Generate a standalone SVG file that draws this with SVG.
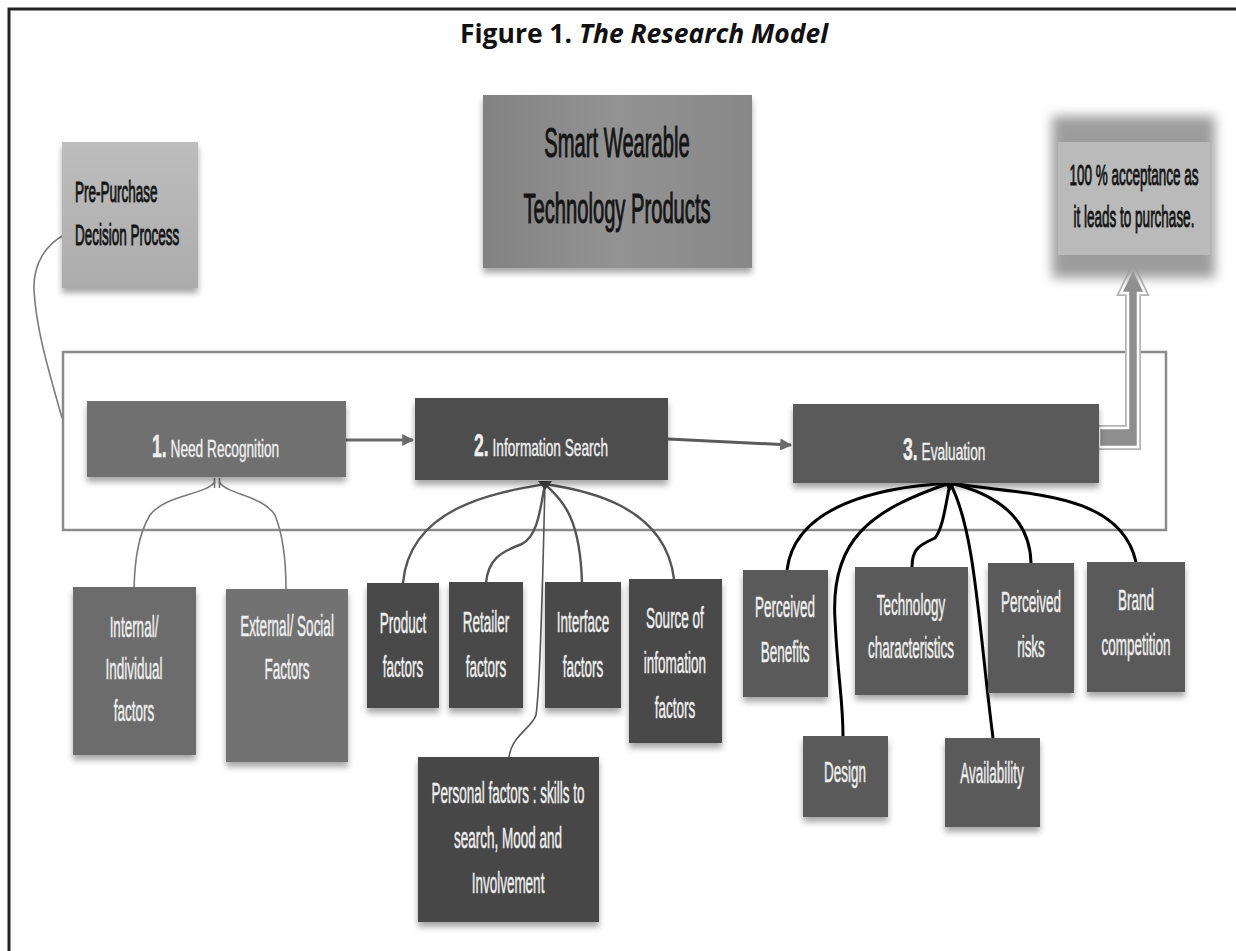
<svg xmlns="http://www.w3.org/2000/svg" width="1236" height="951" viewBox="0 0 1236 951">
<style>
.t{font-family:"Liberation Sans",Arial,sans-serif;font-size:30px;fill:#f0f0f0;stroke:#f0f0f0;stroke-width:0.5}
.d{font-family:"Liberation Sans",Arial,sans-serif;font-size:30px;fill:#141414;stroke:#141414;stroke-width:1}
.h{font-family:"Liberation Sans",Arial,sans-serif;font-size:24px;fill:#f0f0f0;stroke:#f0f0f0;stroke-width:0.4}
.hn{font-size:31px;font-weight:bold}
.c1{fill:none;stroke:#7a7a7a;stroke-width:1.6}
.c2{fill:none;stroke:#555;stroke-width:2.4}
.c3{fill:none;stroke:#000;stroke-width:3}
</style>
<defs>
<filter id="sh" x="-20%" y="-20%" width="140%" height="150%">
<feDropShadow dx="0" dy="5" stdDeviation="3" flood-color="#000" flood-opacity="0.35"/>
</filter>
<filter id="bl" x="-30%" y="-30%" width="160%" height="160%">
<feGaussianBlur stdDeviation="6"/>
</filter>
<linearGradient id="gs" x1="0" y1="0" x2="1" y2="0">
<stop offset="0" stop-color="#828282"/><stop offset="0.5" stop-color="#939393"/><stop offset="1" stop-color="#878787"/>
</linearGradient>
<linearGradient id="gp" x1="0" y1="0" x2="0" y2="1">
<stop offset="0" stop-color="#bdbdbd"/><stop offset="1" stop-color="#acacac"/>
</linearGradient>
<marker id="ar" viewBox="0 0 10 10" refX="9" refY="5" markerWidth="4" markerHeight="4" orient="auto" markerUnits="strokeWidth">
<path d="M0,0 L10,5 L0,10 z" fill="#6a6a6a"/>
</marker>
</defs>

<rect x="0" y="0" width="1236" height="951" fill="#fff"/>
<path d="M9 951 V9 H1236" fill="none" stroke="#222" stroke-width="3"/>

<text x="460" y="43" textLength="368" lengthAdjust="spacingAndGlyphs" style="font-family:'Open Sans','Liberation Sans',sans-serif;font-size:27px;font-weight:bold;fill:#111">Figure 1. <tspan font-style="italic">The Research Model</tspan></text>

<g id="container">
<rect x="63" y="352" width="1103" height="178" fill="#fff" stroke="#8a8a8a" stroke-width="2.5"/>
</g>

<g id="connectors">
<path class="c1" d="M64 235 C45 245 33 265 34 290 C36 330 50 375 62 418"/>
<line x1="345" y1="440" x2="413" y2="440" stroke="#6a6a6a" stroke-width="3" marker-end="url(#ar)"/>
<line x1="668" y1="439" x2="791" y2="445" stroke="#5a5a5a" stroke-width="3" marker-end="url(#ar)"/>
<path class="c1" d="M215 482 C205 495 165 495 150 515 C138 535 135 560 134 587"/>
<path class="c1" d="M219 482 C228 495 262 495 275 515 C283 535 286 560 286 589"/>
<path d="M214.5 478 V488 M219.5 478 V488" fill="none" stroke="#777" stroke-width="1.6"/>
<path class="c2" d="M545 484 C500 492 410 505 403 583"/>
<path class="c2" d="M545 484 C540 510 538 535 522 544 C500 552 488 560 486 583"/>
<path class="c2" d="M545 484 C560 500 580 512 582 583"/>
<path class="c2" d="M545 484 C585 490 665 505 674 579"/>
<path class="c1" d="M545 484 C543 560 541 680 536 715 C532 728 512 735 509 757" style="stroke:#555"/>
<polygon points="538,481 552,481 545,490" fill="#444"/>
<path class="c3" d="M950 483 C880 487 795 505 787 570"/>
<path class="c3" d="M950 483 C870 510 830 540 835 620 C838 680 843 700 843 736"/>
<path class="c3" d="M950 483 C945 510 942 530 935 538 C920 545 912 548 912 567"/>
<path class="c3" d="M950 483 C975 530 978 620 993 738"/>
<path class="c3" d="M950 483 C1000 495 1030 520 1031 563"/>
<path class="c3" d="M950 483 C1020 495 1120 490 1136 562"/>
<polygon points="940,478 958,481 950,491" fill="#000"/>
<path d="M1099 428 H1128 V293 H1121 L1133 268 L1145 293 H1138 V447 H1099 Z" fill="#8e8e8e" stroke="#b3b3b3" stroke-width="6" stroke-linejoin="miter"/>
<path d="M1099 428 H1128 V293 H1121 L1133 268 L1145 293 H1138 V447 H1099 Z" fill="#8e8e8e" stroke="#fff" stroke-width="2.5"/>
</g>

<g id="smart">
<rect x="483" y="95" width="269" height="173" fill="url(#gs)" filter="url(#sh)"/>
<text class="d" transform="matrix(0.48 0 0 1 617 0)" text-anchor="middle" style="font-size:42px"><tspan x="0" y="157">Smart Wearable</tspan><tspan x="0" y="223">Technology Products</tspan></text>
</g>

<g id="prepurchase">
<rect x="62" y="142" width="136" height="146" fill="url(#gp)" filter="url(#sh)"/>
<text class="d" transform="matrix(0.45 0 0 1 75 0)"><tspan x="0" y="202">Pre-Purchase</tspan><tspan x="0" y="245">Decision Process</tspan></text>
</g>

<g id="acceptance">
<rect x="1052" y="116" width="163" height="162" fill="#9c9c9c" filter="url(#bl)"/>
<rect x="1058" y="142" width="152" height="113" fill="#bababa"/>
<text class="d" transform="matrix(0.45 0 0 1 1134 0)" text-anchor="middle"><tspan x="0" y="185">100 % acceptance as</tspan><tspan x="0" y="227">it leads to purchase.</tspan></text>
</g>

<g id="need">
<rect x="87" y="401" width="259" height="76" fill="#707070" filter="url(#sh)"/>
<text class="h" transform="matrix(0.57 0 0 1 152 0)" y="457"><tspan class="hn">1.</tspan> Need Recognition</text>
</g>

<g id="search">
<rect x="415" y="398" width="253" height="82" fill="#4d4d4d" filter="url(#sh)"/>
<text class="h" transform="matrix(0.57 0 0 1 474 0)" y="456"><tspan class="hn">2.</tspan> Information Search</text>
</g>

<g id="evaluation">
<rect x="793" y="404" width="306" height="79" fill="#5a5a5a" filter="url(#sh)"/>
<text class="h" transform="matrix(0.57 0 0 1 903 0)" y="460"><tspan class="hn">3.</tspan> Evaluation</text>
</g>

<g id="internal">
<rect x="73" y="587" width="123" height="168" fill="#6c6c6c" filter="url(#sh)"/>
<text class="t" transform="matrix(0.45 0 0 1 134 0)" text-anchor="middle"><tspan x="0" y="637">Internal/</tspan><tspan x="0" y="679">Individual</tspan><tspan x="0" y="721">factors</tspan></text>
</g>

<g id="external">
<rect x="226" y="589" width="122" height="173" fill="#727272" filter="url(#sh)"/>
<text class="t" transform="matrix(0.45 0 0 1 287 0)" text-anchor="middle"><tspan x="0" y="636">External/ Social</tspan><tspan x="0" y="679">Factors</tspan></text>
</g>

<g id="product">
<rect x="367" y="583" width="72" height="125" fill="#484848" filter="url(#sh)"/>
<text class="t" transform="matrix(0.45 0 0 1 403 0)" text-anchor="middle"><tspan x="0" y="633">Product</tspan><tspan x="0" y="677">factors</tspan></text>
</g>

<g id="retailer">
<rect x="449" y="582" width="74" height="126" fill="#484848" filter="url(#sh)"/>
<text class="t" transform="matrix(0.45 0 0 1 486 0)" text-anchor="middle"><tspan x="0" y="632">Retailer</tspan><tspan x="0" y="677">factors</tspan></text>
</g>

<g id="interface">
<rect x="545" y="582" width="76" height="126" fill="#484848" filter="url(#sh)"/>
<text class="t" transform="matrix(0.45 0 0 1 583 0)" text-anchor="middle"><tspan x="0" y="632">Interface</tspan><tspan x="0" y="677">factors</tspan></text>
</g>

<g id="source">
<rect x="629" y="579" width="93" height="164" fill="#484848" filter="url(#sh)"/>
<text class="t" transform="matrix(0.45 0 0 1 675 0)" text-anchor="middle"><tspan x="0" y="628">Source of</tspan><tspan x="0" y="673">infomation</tspan><tspan x="0" y="718">factors</tspan></text>
</g>

<g id="personal">
<rect x="418" y="757" width="181" height="165" fill="#474747" filter="url(#sh)"/>
<text class="t" transform="matrix(0.45 0 0 1 508 0)" text-anchor="middle"><tspan x="0" y="803">Personal factors : skills to</tspan><tspan x="0" y="848">search, Mood and</tspan><tspan x="0" y="893">Involvement</tspan></text>
</g>

<g id="benefits">
<rect x="743" y="570" width="85" height="127" fill="#5a5a5a" filter="url(#sh)"/>
<text class="t" transform="matrix(0.45 0 0 1 785 0)" text-anchor="middle"><tspan x="0" y="617">Perceived</tspan><tspan x="0" y="662">Benefits</tspan></text>
</g>

<g id="technology">
<rect x="855" y="567" width="113" height="128" fill="#5a5a5a" filter="url(#sh)"/>
<text class="t" transform="matrix(0.45 0 0 1 911 0)" text-anchor="middle"><tspan x="0" y="615">Technology</tspan><tspan x="0" y="658">characteristics</tspan></text>
</g>

<g id="risks">
<rect x="988" y="563" width="86" height="130" fill="#5a5a5a" filter="url(#sh)"/>
<text class="t" transform="matrix(0.45 0 0 1 1031 0)" text-anchor="middle"><tspan x="0" y="612">Perceived</tspan><tspan x="0" y="657">risks</tspan></text>
</g>

<g id="brand">
<rect x="1087" y="562" width="98" height="130" fill="#5a5a5a" filter="url(#sh)"/>
<text class="t" transform="matrix(0.45 0 0 1 1136 0)" text-anchor="middle"><tspan x="0" y="610">Brand</tspan><tspan x="0" y="655">competition</tspan></text>
</g>

<g id="design">
<rect x="803" y="736" width="85" height="81" fill="#5a5a5a" filter="url(#sh)"/>
<text class="t" transform="matrix(0.45 0 0 1 845 0)" text-anchor="middle"><tspan x="0" y="782">Design</tspan></text>
</g>

<g id="availability">
<rect x="945" y="738" width="95" height="89" fill="#5a5a5a" filter="url(#sh)"/>
<text class="t" transform="matrix(0.45 0 0 1 992 0)" text-anchor="middle"><tspan x="0" y="783">Availability</tspan></text>
</g>
</svg>
